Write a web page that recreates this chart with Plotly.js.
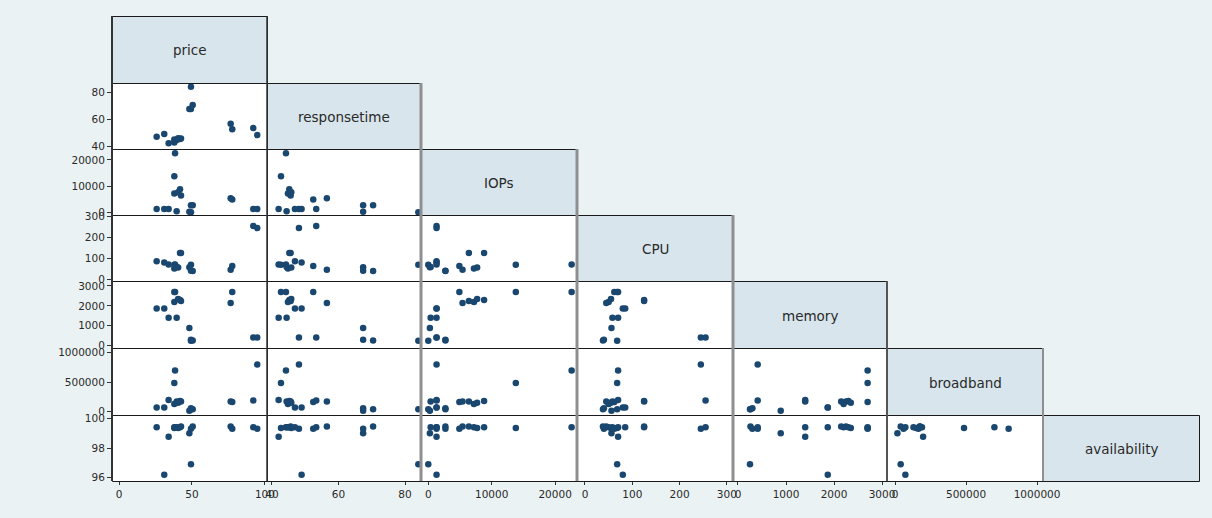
<!DOCTYPE html>
<html>
<head>
<meta charset="utf-8">
<script src="https://cdn.plot.ly/plotly-3.0.1.min.js"></script>
<style>html,body{margin:0;padding:0;background:#eaf2f3;} #chart{width:1212px;height:518px;}</style>
</head>
<body>
<div id="chart"></div>
<script>
// ---- data (one entry per observation) ----
const varNames = ["price", "responsetime", "IOPs", "CPU", "memory", "broadband", "availability"];
const price        = [25.8, 31.0, 34.0, 38.4, 37.9, 41.8, 42.5, 37.9, 39.5, 40.5, 49.3, 50.5, 48.2, 49.3, 76.5, 77.6, 92.0, 94.7];
const responsetime = [46.9, 48.9, 42.0, 44.2, 42.7, 45.2, 45.6, 44.8, 44.4, 45.8, 84.0, 70.4, 67.4, 67.4, 56.5, 52.4, 53.3, 48.1];
const IOPs         = [1300, 1300, 1300, 22600, 13800, 8800, 6400, 7200, 370, 7700, 0, 2700, 250, 2700, 5400, 4900, 1300, 1300];
const CPU          = [85, 80, 70, 70, 68, 125, 125, 50, 58, 55, 68, 38, 56, 40, 45, 62, 255, 245];
const memory       = [1870, 1870, 1400, 2700, 2700, 2300, 2250, 2200, 1400, 2350, 250, 260, 890, 300, 2150, 2700, 410, 410];
const broadband    = [73000, 73000, 198000, 700000, 486000, 180000, 175000, 130000, 175000, 150000, 40000, 40000, 17000, 60000, 175000, 165000, 190000, 800000];
const availability = [99.4, 96.2, 98.75, 99.4, 99.35, 99.4, 99.45, 99.4, 99.4, 99.35, 96.9, 99.45, 99.0, 99.3, 99.45, 99.3, 99.4, 99.3];

// tick labels
const tickVals = [
  [0, 50, 100],
  [40, 60, 80],
  [0, 10000, 20000],
  [0, 100, 200, 300],
  [0, 1000, 2000, 3000],
  [0, 500000, 1000000],
  [96, 98, 100]
];
const tickText = [
  ["0", "50", "100"],
  ["40", "60", "80"],
  ["0", "10000", "20000"],
  ["0", "100", "200", "300"],
  ["0", "1000", "2000", "3000"],
  ["0", "500000", "1000000"],
  ["96", "98", "100"]
];

// ---- layout geometry (pixels) ----
const W = 1212, H = 518;
const colEdges = [112, 267, 421, 577, 733, 887, 1043, 1199];
const rowEdges = [16, 83, 149, 215, 281, 348, 415, 481];
const xRanges = [[-4.8, 101.4], [38.5, 84.8], [-1150, 23450], [-16.9, 313], [-104, 3104], [-56300, 1042000], [95.78, 100.22]];
const yRanges = [[-4.8, 101.4], [37.8, 86.7], [-1030, 24200], [-9.6, 308], [-116, 3251], [-56000, 1080000], [95.78, 100.22]];

const cols = [price, responsetime, IOPs, CPU, memory, broadband, availability];

const px = v => v / W;
const py = v => 1 - v / H;

const tickFont = {family: "DejaVu Sans, Arial, sans-serif", size: 10.5, color: "#2a2a2a"};
const traces = [];
const layout = {
  width: W, height: H,
  margin: {l: 0, r: 0, t: 0, b: 0},
  paper_bgcolor: "#eaf2f3",
  plot_bgcolor: "#ffffff",
  showlegend: false,
  shapes: [],
  annotations: []
};

let k = 0;
for (let i = 1; i < 7; i++) {
  for (let j = 0; j < i; j++) {
    k++;
    const sfx = k === 1 ? "" : String(k);
    traces.push({
      type: "scatter", mode: "markers",
      x: cols[j], y: cols[i],
      xaxis: "x" + sfx, yaxis: "y" + sfx,
      marker: {color: "#1a476f", size: 6.5, line: {width: 0}},
      hoverinfo: "skip", cliponaxis: false
    });
    layout["xaxis" + sfx] = {
      domain: [px(colEdges[j]), px(colEdges[j + 1])],
      range: xRanges[j], anchor: "y" + sfx,
      showgrid: false, zeroline: false, showline: false,
      tickmode: "array", tickvals: tickVals[j], ticktext: tickText[j],
      showticklabels: i === 6, ticks: i === 6 ? "outside" : "",
      ticklen: 3, tickwidth: 1, tickcolor: "#333", tickfont: tickFont,
      fixedrange: true
    };
    layout["yaxis" + sfx] = {
      domain: [py(rowEdges[i + 1]), py(rowEdges[i])],
      range: yRanges[i], anchor: "x" + sfx,
      showgrid: false, zeroline: false, showline: false,
      tickmode: "array", tickvals: tickVals[i], ticktext: tickText[i],
      showticklabels: j === 0, ticks: j === 0 ? "outside" : "",
      ticklen: 4, tickwidth: 1, tickcolor: "#333", tickfont: tickFont,
      fixedrange: true
    };
  }
}

// diagonal label boxes
for (let d = 0; d < 7; d++) {
  layout.shapes.push({
    type: "rect", xref: "paper", yref: "paper", layer: "below",
    x0: px(colEdges[d]), x1: px(colEdges[d + 1]),
    y0: py(rowEdges[d + 1]), y1: py(rowEdges[d]),
    fillcolor: "#d8e5ec", line: {width: 0}
  });
  layout.annotations.push({
    xref: "paper", yref: "paper",
    x: px((colEdges[d] + colEdges[d + 1]) / 2),
    y: py((rowEdges[d] + rowEdges[d + 1]) / 2 + 1),
    xanchor: "center", yanchor: "middle",
    text: varNames[d], showarrow: false,
    font: {family: "DejaVu Sans, Arial, sans-serif", size: 13.5, color: "#2a2a2a"}
  });
}
// cell borders (half-pixel offset for crisp lines)
for (let i = 0; i < 7; i++) {
  for (let j = 0; j <= i; j++) {
    layout.shapes.push({
      type: "rect", xref: "paper", yref: "paper", layer: "above",
      x0: px(colEdges[j] + 0.5), x1: px(colEdges[j + 1] + 0.5),
      y0: py(rowEdges[i + 1] + 0.5), y1: py(rowEdges[i] + 0.5),
      line: {color: "#1a1a1a", width: 1}
    });
  }
}
// heavier vertical separators
const vLines = [[112, 16, "#333", 2], [267, 16, "#333", 1.5], [421, 83, "#8f8f8f", 3], [577, 149, "#8f8f8f", 3], [733, 215, "#8f8f8f", 3], [887, 281, "#555", 2], [1043, 348, "#8f8f8f", 2]];
vLines.forEach(v => {
  layout.shapes.push({
    type: "line", xref: "paper", yref: "paper", layer: "above",
    x0: px(v[0]), x1: px(v[0]), y0: py(v[1]), y1: py(481),
    line: {color: v[2], width: v[3]}
  });
});

Plotly.newPlot("chart", traces, layout, {displayModeBar: false, staticPlot: true});
</script>
</body>
</html>
